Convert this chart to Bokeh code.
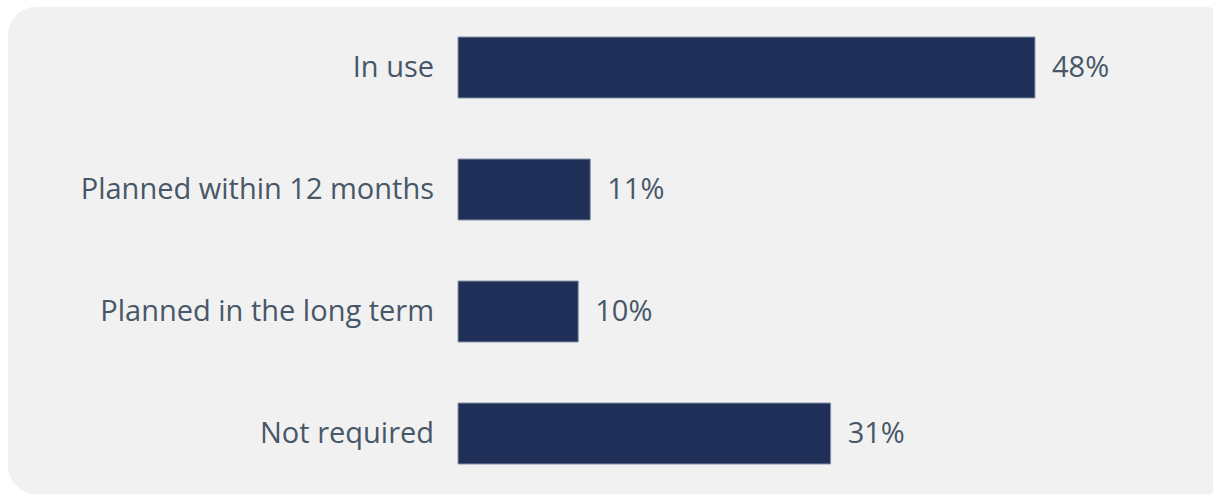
from bokeh.plotting import figure
from bokeh.models import Range1d, BoxAnnotation, ColumnDataSource
from bokeh.core.properties import value
from bokeh.embed import file_html
from bokeh.resources import INLINE

categories = ["In use", "Planned within 12 months", "Planned in the long term", "Not required"]
values = [48, 11, 10, 31]
value_labels = ["48%", "11%", "10%", "31%"]

ypos = list(range(len(categories)))[::-1]

src = ColumnDataSource(dict(cat=categories, val=values, lab=value_labels, y=ypos,
                            zero=[0] * len(values)))

p = figure(width=1213, height=494, output_backend="svg", toolbar_location=None,
           x_range=Range1d(-37.48, 62.85), y_range=Range1d(-0.5, 3.5),
           min_border_left=7, min_border_top=6, min_border_right=0, min_border_bottom=0)
p.axis.visible = False
p.grid.visible = False
p.outline_line_color = None
p.background_fill_color = "white"
p.border_fill_color = "white"

panel = BoxAnnotation(right=64.5, fill_color="#f1f1f1", fill_alpha=1.0,
                      line_color=None, border_radius=30, level="underlay")
p.add_layout(panel)

p.hbar(y="y", left="zero", right="val", height=0.5, source=src,
       fill_color="#1f2f57", line_color="#8793aa", line_width=1)

p.text(x="zero", y="y", text="cat", source=src, x_offset=-24, y_offset=-2,
       text_align="right", text_baseline="middle",
       text_font=value("Open Sans"), text_font_size="29px", text_color="#475768")

p.text(x="val", y="y", text="lab", source=src, x_offset=17, y_offset=-2,
       text_align="left", text_baseline="middle",
       text_font=value("Open Sans"), text_font_size="29px", text_color="#475768")

open("out.html", "w").write(file_html(p, INLINE))
